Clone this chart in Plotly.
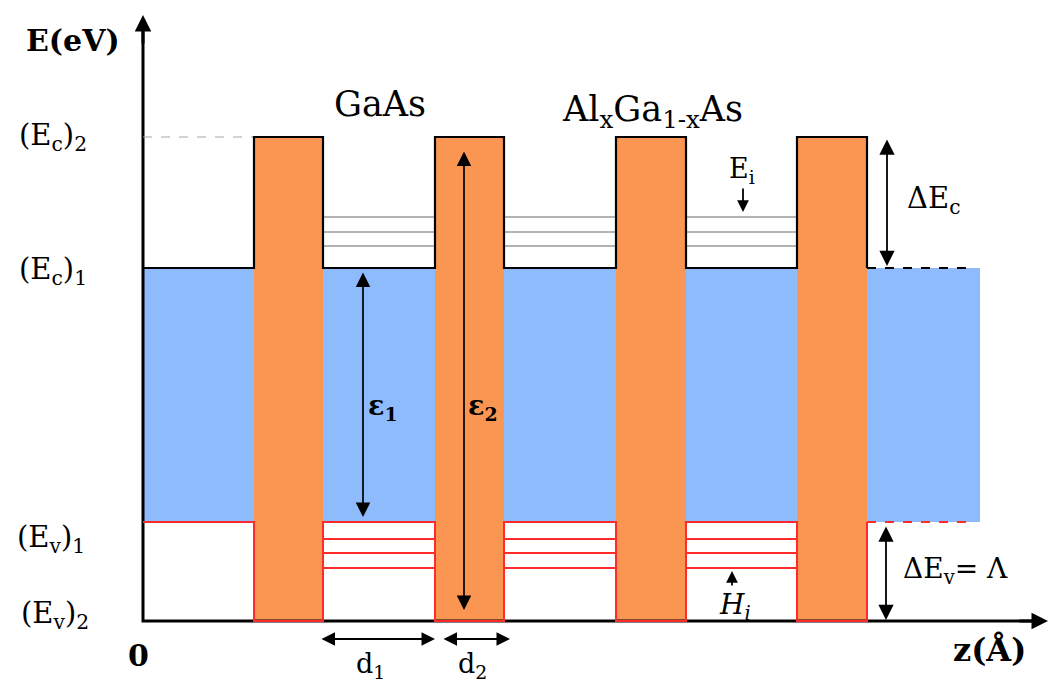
import plotly.graph_objects as go

# ---------------- data (schematic band diagram, arbitrary units) ----------------
E_v2, E_v1, E_c1, E_c2 = 0.0, 0.99, 3.53, 4.84          # band-edge energies
level_labels = ["(E<sub>v</sub>)<sub>2</sub>", "(E<sub>v</sub>)<sub>1</sub>",
                "(E<sub>c</sub>)<sub>1</sub>", "(E<sub>c</sub>)<sub>2</sub>"]
barrier_start = [1.11, 2.92, 4.73, 6.54]                  # z of AlGaAs barriers
barrier_end = [1.80, 3.61, 5.43, 7.24]
electron_levels = [4.04, 3.89, 3.75]                      # E_i sub-levels
hole_levels = [0.82, 0.68, 0.53]                          # H_i sub-levels
z_end = 8.37                                              # end of drawn structure
z_axis_end = 9.05
E_axis_end = 6.06

ORANGE = "#FA9651"
BLUE = "#8EBBFB"
RED = "#FF2A2A"
FONT = "DejaVu Serif"

fig = go.Figure()

# ---------------- filled regions ----------------
shapes = [dict(type="rect", xref="x", yref="y", x0=0, x1=z_end, y0=E_v1, y1=E_c1,
               fillcolor=BLUE, line=dict(width=0), layer="below")]
for zs, ze in zip(barrier_start, barrier_end):
    shapes.append(dict(type="rect", xref="x", yref="y", x0=zs, x1=ze, y0=E_v2, y1=E_c2,
                       fillcolor=ORANGE, line=dict(width=0), layer="below"))

# ---------------- axes lines ----------------
fig.add_trace(go.Scatter(x=[0, 0, z_axis_end - 0.12], y=[E_axis_end - 0.12, 0, 0], mode="lines",
                         line=dict(color="black", width=3), hoverinfo="skip"))

# dashed reference line at (Ec)2
fig.add_trace(go.Scatter(x=[0, barrier_start[0]], y=[E_c2, E_c2], mode="lines",
                         line=dict(color="#A8A8A8", width=1.2, dash="dash"), hoverinfo="skip"))

# electron sub-levels (gray) and hole sub-levels (red) in the wells
for i in range(len(barrier_start) - 1):
    for e in electron_levels:
        fig.add_trace(go.Scatter(x=[barrier_end[i], barrier_start[i + 1]], y=[e, e], mode="lines",
                                 line=dict(color="#9A9A9A", width=1.5), hoverinfo="skip"))
    for h in hole_levels:
        fig.add_trace(go.Scatter(x=[barrier_end[i], barrier_start[i + 1]], y=[h, h], mode="lines",
                                 line=dict(color=RED, width=2), hoverinfo="skip"))

# conduction band profile (black) and valence band profile (red)
cx, cy = [0], [E_c1]
vx, vy = [0], [E_v1]
for zs, ze in zip(barrier_start, barrier_end):
    cx += [zs, zs, ze, ze]
    cy += [E_c1, E_c2, E_c2, E_c1]
    vx += [zs, zs, ze, ze]
    vy += [E_v1, E_v2, E_v2, E_v1]
fig.add_trace(go.Scatter(x=cx, y=cy, mode="lines", line=dict(color="black", width=2.2),
                         hoverinfo="skip"))
fig.add_trace(go.Scatter(x=[barrier_end[-1], z_end - 0.05], y=[E_c1, E_c1], mode="lines",
                         line=dict(color="black", width=2, dash="dash"), hoverinfo="skip"))
fig.add_trace(go.Scatter(x=vx, y=vy, mode="lines", line=dict(color=RED, width=2),
                         hoverinfo="skip"))
fig.add_trace(go.Scatter(x=[barrier_end[-1], z_end - 0.05], y=[E_v1, E_v1], mode="lines",
                         line=dict(color=RED, width=2, dash="dash"), hoverinfo="skip"))

# ---------------- annotations ----------------
ann = []


def arrow(x, y, ax, ay, both=True, w=1.7, size=1.7):
    ann.append(dict(x=x, y=y, ax=ax, ay=ay, xref="x", yref="y", axref="x", ayref="y",
                    text="", showarrow=True, arrowhead=2, arrowsize=size, arrowwidth=w,
                    arrowcolor="black", arrowside="end+start" if both else "end",
                    startarrowhead=2, startarrowsize=size))


def label(x, y, text, size=26, bold=False):
    ann.append(dict(x=x, y=y, xref="x", yref="y", text=("<b>%s</b>" % text) if bold else text,
                    showarrow=False, font=dict(family=FONT, size=size, color="black"),
                    xanchor="center", yanchor="middle"))


# axis arrowheads
ann.append(dict(x=0, y=E_axis_end, ax=0, ay=E_axis_end - 0.3, xref="x", yref="y", axref="x",
                ayref="y", text="", showarrow=True, arrowhead=2, arrowsize=1.1, arrowwidth=3,
                arrowcolor="black"))
ann.append(dict(x=z_axis_end, y=0, ax=z_axis_end - 0.3, ay=0, xref="x", yref="y", axref="x",
                ayref="y", text="", showarrow=True, arrowhead=2, arrowsize=1.1, arrowwidth=3,
                arrowcolor="black"))

# energy / width arrows
arrow(2.20, E_v1 + 0.05, 2.20, E_c1 - 0.03)                 # epsilon_1
arrow(3.21, E_v2 + 0.11, 3.21, E_c2 - 0.13)                 # epsilon_2
arrow(7.44, E_c1 + 0.02, 7.44, E_c2 - 0.01, w=1.8)          # Delta Ec
arrow(7.43, E_v2 + 0.01, 7.43, E_v1 - 0.03, w=1.8)          # Delta Ev
arrow(2.92, -0.18, 1.77, -0.18, w=1.8, size=1.5)            # d1
arrow(3.67, -0.18, 2.99, -0.18, w=1.8, size=1.5)            # d2
arrow(6.00, electron_levels[0] + 0.05, 6.00, 4.34, both=False, w=1.8, size=1.3)   # Ei
arrow(5.89, hole_levels[-1] - 0.03, 5.89, 0.34, both=False, w=1.8, size=1.3)       # Hi

# text labels
label(-0.70, 5.81, "E(eV)", size=30, bold=True)
label(-0.90, E_c2, level_labels[3], size=29)
label(-0.90, E_c1 - 0.03, level_labels[2], size=29)
label(-0.92, E_v1 - 0.17, level_labels[1], size=29)
label(-0.88, E_v2 + 0.06, level_labels[0], size=29)
label(-0.05, -0.34, "0", size=30, bold=True)
label(8.46, -0.29, "z(Å)", size=32, bold=True)
label(2.37, 5.17, "GaAs", size=35)
label(5.09, 5.10, "Al<sub>x</sub>Ga<sub>1-x</sub>As", size=35)
label(7.90, 4.21, "ΔE<sub>c</sub>", size=29)
label(8.12, 0.51, "ΔE<sub>v</sub>= Λ", size=28)
label(2.40, 2.14, "ε<sub>1</sub>", size=27, bold=True)
label(3.40, 2.14, "ε<sub>2</sub>", size=27, bold=True)
label(5.99, 4.51, "E<sub>i</sub>", size=27)
label(5.92, 0.15, "<i>H<sub>i</sub></i>", size=28)
label(2.27, -0.44, "d<sub>1</sub>", size=27)
label(3.29, -0.44, "d<sub>2</sub>", size=27)

fig.update_layout(
    width=1051, height=688, margin=dict(l=0, r=0, t=0, b=0),
    paper_bgcolor="white", plot_bgcolor="white", showlegend=False,
    xaxis=dict(range=[-1.43, 9.08], visible=False, fixedrange=True),
    yaxis=dict(range=[-0.67, 6.21], visible=False, fixedrange=True),
    shapes=shapes, annotations=ann,
)

fig.write_html("out.html")
